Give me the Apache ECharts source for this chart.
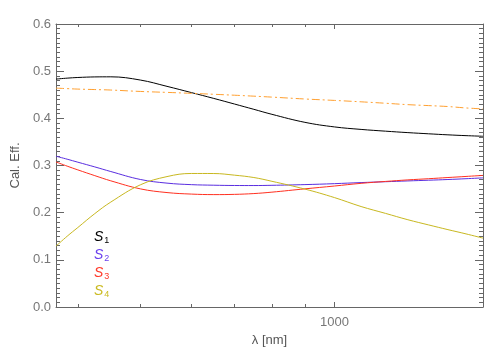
<!DOCTYPE html>
<html>
<head>
<meta charset="utf-8">
<script src="https://cdn.jsdelivr.net/npm/echarts@6/dist/echarts.min.js"></script>
<style>
html, body { margin: 0; padding: 0; background: #fff; }
#chart { width: 498px; height: 356px; }
</style>
</head>
<body>
<div id="chart"></div>
<script>
var lambda = [370, 385, 400, 425, 450, 500, 550, 600, 650, 700, 750, 800, 900, 1000, 1100, 1200, 1300, 1400, 1500, 1600, 1700];
var s1 = [0.4832, 0.4852, 0.4866, 0.4878, 0.488, 0.4812, 0.4678, 0.4546, 0.4422, 0.4303, 0.4191, 0.4085, 0.3915, 0.3818, 0.3765, 0.3728, 0.3697, 0.3672, 0.365, 0.3633, 0.362];
var s2 = [0.3197, 0.3134, 0.307, 0.297, 0.2872, 0.2704, 0.2626, 0.2594, 0.2582, 0.2576, 0.2575, 0.258, 0.2595, 0.2615, 0.2638, 0.2656, 0.2673, 0.2688, 0.2703, 0.272, 0.2738];
var s3 = [0.3075, 0.2987, 0.2907, 0.2785, 0.2675, 0.2505, 0.2426, 0.2394, 0.2383, 0.2388, 0.2405, 0.2435, 0.2505, 0.2565, 0.2622, 0.2662, 0.2695, 0.272, 0.2745, 0.2768, 0.279];
var s4 = [0.129, 0.150, 0.1685, 0.198, 0.2225, 0.259, 0.2765, 0.2831, 0.283, 0.2795, 0.2745, 0.2665, 0.250, 0.232, 0.213, 0.1985, 0.185, 0.174, 0.164, 0.155, 0.146];
var ref = [0.464, 0.463, 0.462, 0.461, 0.460, 0.457, 0.455, 0.453, 0.451, 0.449, 0.447, 0.445, 0.441, 0.438, 0.435, 0.432, 0.429, 0.427, 0.425, 0.422, 0.420];

var xMajor = [1000];
var xMinor = [400, 500, 600, 700, 800, 900];

function pairs(ys) {
    return lambda.map(function (l, i) { return [l, ys[i]]; });
}

var axisColor = '#666';
var font = 'Liberation Sans';
var gridH = 356 - 24 - 49;

// main plot + thin strips along the frame; the strips carry the inward ticks
var grids = [
    { left: 56, right: 15, top: 24, bottom: 49 },
    { left: 56, width: 8, top: 24, bottom: 49 },
    { left: 56, width: 4, top: 24, bottom: 49 },
    { right: 15, width: 8, top: 24, bottom: 49 },
    { right: 15, width: 4, top: 24, bottom: 49 },
    { left: 56, right: 15, top: 24, height: 5 },
    { left: 56, right: 15, top: 24, height: 3 }
];

function logX(gi, pos, offset, ticks, len, showLine, labels) {
    return {
        gridIndex: gi,
        type: 'log',
        logBase: 10,
        min: 370,
        max: 1700,
        position: pos,
        offset: offset,
        name: labels ? 'λ [nm]' : null,
        nameLocation: 'middle',
        nameGap: 18,
        nameTextStyle: { color: '#555', fontFamily: font, fontSize: 13 },
        axisLine: { show: showLine, onZero: false, lineStyle: { color: axisColor } },
        axisTick: { show: !!ticks, length: len, customValues: ticks || undefined, lineStyle: { color: axisColor } },
        axisLabel: {
            show: labels,
            customValues: xMajor,
            margin: 9,
            color: '#777',
            fontFamily: font,
            fontSize: 13,
            formatter: function (v) { return String(Math.round(v)); }
        },
        splitLine: { show: false },
        minorTick: { show: false }
    };
}

function hiddenX(gi) {
    return { gridIndex: gi, type: 'value', min: 0, max: 1, show: false };
}

function hiddenY(gi) {
    return { gridIndex: gi, type: 'value', min: 0, max: 1, show: false };
}

function mainY(pos, labels) {
    return {
        gridIndex: 0,
        type: 'value',
        min: 0,
        max: 0.6,
        interval: 0.1,
        position: pos,
        name: labels ? 'Cal. Eff.' : null,
        nameLocation: 'middle',
        nameGap: 33,
        nameTextStyle: { color: '#555', fontFamily: font, fontSize: 13 },
        axisLine: { show: true, onZero: false, lineStyle: { color: axisColor } },
        axisTick: { show: false },
        axisLabel: {
            show: labels,
            margin: 5,
            color: '#777',
            fontFamily: font,
            fontSize: 13,
            formatter: function (v) { return v.toFixed(1); }
        },
        splitLine: { show: false }
    };
}

// strip axis: split lines across the strip act as the ticks
function stripY(gi, minor) {
    return {
        gridIndex: gi,
        type: 'value',
        min: 0,
        max: 0.6,
        interval: 0.1,
        axisLine: { show: false },
        axisTick: { show: false },
        axisLabel: { show: false },
        minorTick: { show: false, splitNumber: 10 },
        splitLine: { show: !minor, lineStyle: { color: axisColor, width: 1 } },
        minorSplitLine: { show: minor, lineStyle: { color: axisColor, width: 1 } }
    };
}

function line(name, ys, color, type) {
    return {
        name: name,
        type: 'line',
        data: pairs(ys),
        smooth: 0.4,
        showSymbol: false,
        symbol: 'none',
        lineStyle: { color: color, width: 1, type: type || 'solid' },
        itemStyle: { color: color }
    };
}

var chart = echarts.init(document.getElementById('chart'));
chart.setOption({
    animation: false,
    backgroundColor: '#fff',
    grid: grids,
    legend: {
        orient: 'vertical',
        left: 84,
        top: 225,
        itemWidth: 0,
        itemHeight: 0,
        itemGap: 3,
        icon: 'none',
        data: [
            { name: 'S1', textStyle: { color: '#000' } },
            { name: 'S2', textStyle: { color: '#6a40ee' } },
            { name: 'S3', textStyle: { color: '#ff3a2a' } },
            { name: 'S4', textStyle: { color: '#cbbb22' } }
        ],
        formatter: function (name) {
            return '{s|S}{n|' + name.slice(1) + '}';
        },
        textStyle: {
            fontFamily: font,
            rich: {
                s: { fontSize: 14, fontStyle: 'italic' },
                n: { fontSize: 9, verticalAlign: 'bottom', padding: [7, 0, 0, 1] }
            }
        }
    },
    xAxis: [
        logX(0, 'bottom', 0, null, 0, true, true),
        logX(0, 'top', -gridH, xMajor, 5, false, false),
        logX(0, 'top', -gridH, xMinor, 3, false, false),
        logX(0, 'top', 0, null, 0, true, false),
        hiddenX(1),
        hiddenX(2),
        hiddenX(3),
        hiddenX(4),
        logX(5, 'top', -5, xMajor, 5, false, false),
        logX(6, 'top', -3, xMinor, 3, false, false)
    ],
    yAxis: [
        mainY('left', true),
        mainY('right', false),
        stripY(1, false),
        stripY(2, true),
        stripY(3, false),
        stripY(4, true),
        hiddenY(5),
        hiddenY(6)
    ],
    series: [
        line('S1', s1, '#000000'),
        line('S2', s2, '#5a2ee0'),
        line('S3', s3, '#ff3020'),
        line('S4', s4, '#c8b820'),
        line('ref', ref, '#ffa030', [8, 3, 2, 3])
    ]
});
</script>
</body>
</html>
